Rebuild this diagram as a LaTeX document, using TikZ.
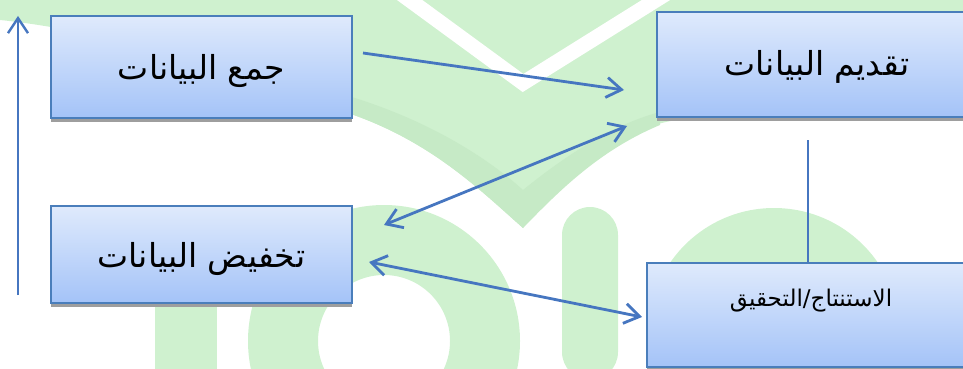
\documentclass[tikz,border=0pt]{standalone}
\usepackage{fontspec}
\newfontfamily\arabicfont[Script=Arabic]{DejaVu Sans}
\TeXXeTstate=1
\usetikzlibrary{arrows.meta,shadows}
\definecolor{wm}{RGB}{207,241,207}
\definecolor{wmdark}{RGB}{198,234,198}
\definecolor{boxtop}{RGB}{223,234,252}
\definecolor{boxbot}{RGB}{164,195,248}
\definecolor{boxline}{RGB}{74,126,187}
\definecolor{arrowblue}{RGB}{70,118,192}
\definecolor{shadowgray}{RGB}{158,158,158}
\begin{document}
\begin{tikzpicture}[x=1pt,y=-1pt,
  stepbox/.style={rectangle, draw=boxline, line width=2pt, top color=boxtop, bottom color=boxbot, inner sep=0pt,
    drop shadow={opacity=1, fill=shadowgray, shadow xshift=0pt, shadow yshift=-4pt}},
  bigtext/.style={font=\arabicfont\fontsize{33}{38}\selectfont},
  smalltext/.style={font=\arabicfont\fontsize{23}{28}\selectfont},
  flow/.style={draw=arrowblue, line width=2.8pt},
  onetip/.style={-{Straight Barb[length=15pt,width=20pt]}},
  twotip/.style={{Straight Barb[length=15pt,width=20pt]}-{Straight Barb[length=15pt,width=20pt]}},
  thinline/.style={draw=arrowblue, line width=1.8pt}]
\clip (0,0) rectangle (963,369);
% watermark
\fill[wm] (0,0) -- (963,0) -- (963,120) .. controls (850,108) and (700,105) .. (640,130)
  .. controls (590,155) and (550,195) .. (523,228)
  .. controls (480,190) and (430,140) .. (345,112)
  .. controls (220,60) and (80,28) .. (0,20) -- cycle;
\fill[wmdark] (523,228) .. controls (480,190) and (430,140) .. (345,112)
  -- (345,95) .. controls (430,120) and (490,160) .. (523,190)
  .. controls (560,160) and (610,125) .. (660,112) -- (660,125)
  .. controls (600,150) and (560,190) .. cycle;
\draw[white, line width=15pt, miter limit=10] (396,-10) -- (523,83) -- (672,-10);
\fill[wm] (155,290) rectangle (217,375);
\fill[wm, even odd rule] (384,341) circle[radius=136pt] (384,341) circle[radius=66pt];
\fill[wm, rounded corners=28pt] (562,380) rectangle (618,207);
\fill[wm] (774,334) circle[radius=126pt];
% boxes
\node[stepbox, minimum width=301pt, minimum height=102pt] (b1) at (201.5,67) {};
\node[bigtext] (t1) at ([yshift=-4pt]b1.center) {\beginR جمع البيانات\endR};
\node[stepbox, minimum width=320pt, minimum height=105pt] (b2) at (817,64.5) {};
\node[bigtext] (t2) at ([yshift=-2pt]b2.center) {\beginR تقديم البيانات\endR};
\node[stepbox, minimum width=301pt, minimum height=97pt] (b3) at (201.5,254.5) {};
\node[bigtext] (t3) at ([yshift=-4pt]b3.center) {\beginR تخفيض البيانات\endR};
\node[stepbox, minimum width=328pt, minimum height=104pt] (b4) at (811,315) {};
\node[smalltext] (t4) at ([yshift=14pt]b4.center) {\beginR الاستنتاج/التحقيق\endR};
% connectors
\draw[flow, onetip] ([shift={(10,-14)}]b1.east) -- ([shift={(-32,25.5)}]b2.west);
\draw[flow, twotip] ([shift={(-29,8)}]b2.south west) -- ([shift={(31,20)}]b3.north east);
\draw[flow, twotip] ([shift={(16,7.5)}]b3.east) -- ([shift={(-4,2)}]b4.west);
\draw[flow, onetip, line width=2.4pt] ([shift={(-32,40.5)}]b3.west) -- ([shift={(-32,-51)}]b1.west);
\coordinate (vt) at (808,140);
\draw[thinline] (vt) -- (vt |- b4.north);
\end{tikzpicture}
\end{document}
